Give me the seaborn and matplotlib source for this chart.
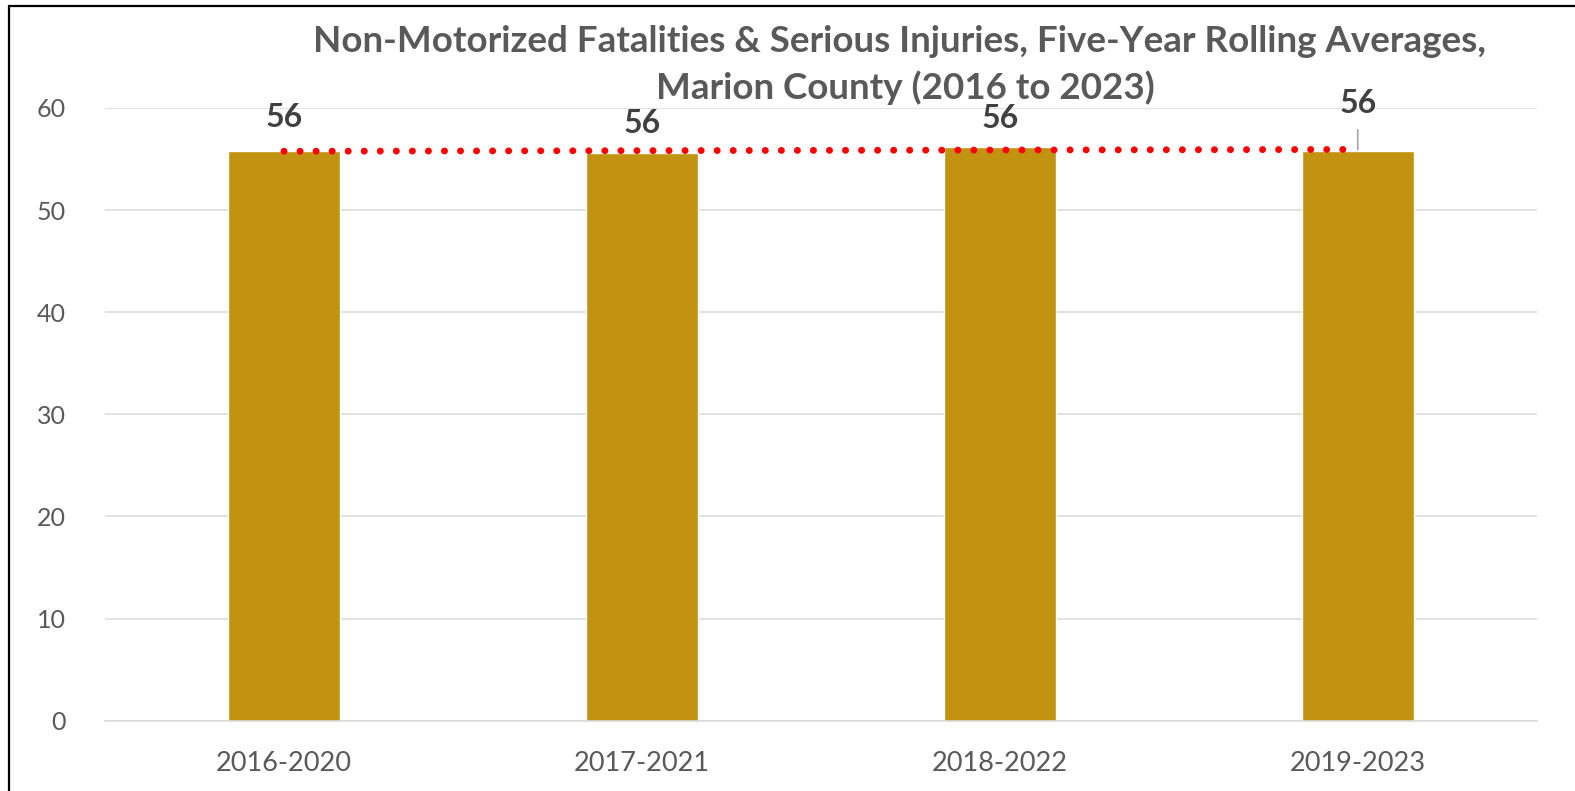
import numpy as np
import pandas as pd
import matplotlib
matplotlib.use("Agg")
import matplotlib.pyplot as plt
import seaborn as sns
from matplotlib.lines import Line2D

# five-year rolling averages
periods = ["2016-2020", "2017-2021", "2018-2022", "2019-2023"]
averages = [55.8, 55.6, 56.2, 55.8]
labels = ["56", "56", "56", "56"]

title_lines = ["Non-Motorized Fatalities & Serious Injuries, Five-Year Rolling Averages,",
               "Marion County (2016 to 2023)"]

sns.set_style("white")
plt.rcParams["font.family"] = ["Lato", "DejaVu Sans"]

df = pd.DataFrame({"Period": periods, "Average": averages})

fig = plt.figure(figsize=(15.75, 7.91), dpi=100)
ax = fig.add_axes([0.0667, 0.0889, 0.909, 0.7746])

sns.barplot(x="Period", y="Average", data=df, color="#C29310",
            saturation=1, width=0.314, ax=ax, zorder=2)

# linear trend line across the bars
xs = np.arange(len(averages))
slope, intercept = np.polyfit(xs, averages, 1)
ax.plot(xs, slope * xs + intercept, color="#FF0000", lw=5,
        linestyle=(0, (0.01, 2.3)), dash_capstyle="round", zorder=3)

# data labels, moved by hand like the original
offsets = [24, 21, 20, 34]
for i, (val, lab) in enumerate(zip(averages, labels)):
    props = None
    if i == len(averages) - 1:
        props = dict(arrowstyle="-", color="#A6A6A6", lw=1.2, shrinkA=6, shrinkB=1)
    ax.annotate(lab, xy=(i, val), xytext=(0, offsets[i]), textcoords="offset points",
                ha="center", va="center", fontsize=23, fontweight="bold",
                color="#404040", arrowprops=props, zorder=4)

ax.set_xlim(-0.5, len(periods) - 0.5)
ax.set_ylim(0, 60)
ax.set_yticks(range(0, 61, 10))
ax.yaxis.grid(True, color="#D9D9D9", lw=1.1)
ax.set_axisbelow(True)

ax.set_xlabel("")
ax.set_ylabel("")
ax.tick_params(axis="y", length=0, pad=28, labelsize=18, labelcolor="#595959")
ax.tick_params(axis="x", which="major", length=0, pad=22, labelsize=19.5, labelcolor="#595959")
ax.set_xticks(np.arange(-0.5, len(periods), 1.0), minor=True)
ax.tick_params(axis="x", which="minor", length=7.5, width=1.1, color="#D9D9D9", direction="out")

for side in ["left", "right", "top"]:
    ax.spines[side].set_visible(False)
ax.spines["bottom"].set_color("#D9D9D9")
ax.spines["bottom"].set_linewidth(1.1)

# title, two lines placed separately
fig.text(0.571, 0.947, title_lines[0], ha="center", va="center", fontsize=26.5,
         fontweight="bold", color="#595959")
fig.text(0.575, 0.889, title_lines[1], ha="center", va="center", fontsize=26.5,
         fontweight="bold", color="#595959")

# frame edges visible in the original screenshot
fig.add_artist(Line2D([0.0057, 1], [0.9924, 0.9924], color="black", lw=1.6))
fig.add_artist(Line2D([0.0057, 0.0057], [0, 0.9924], color="black", lw=1.6))

fig.savefig("out.png", dpi=100)
